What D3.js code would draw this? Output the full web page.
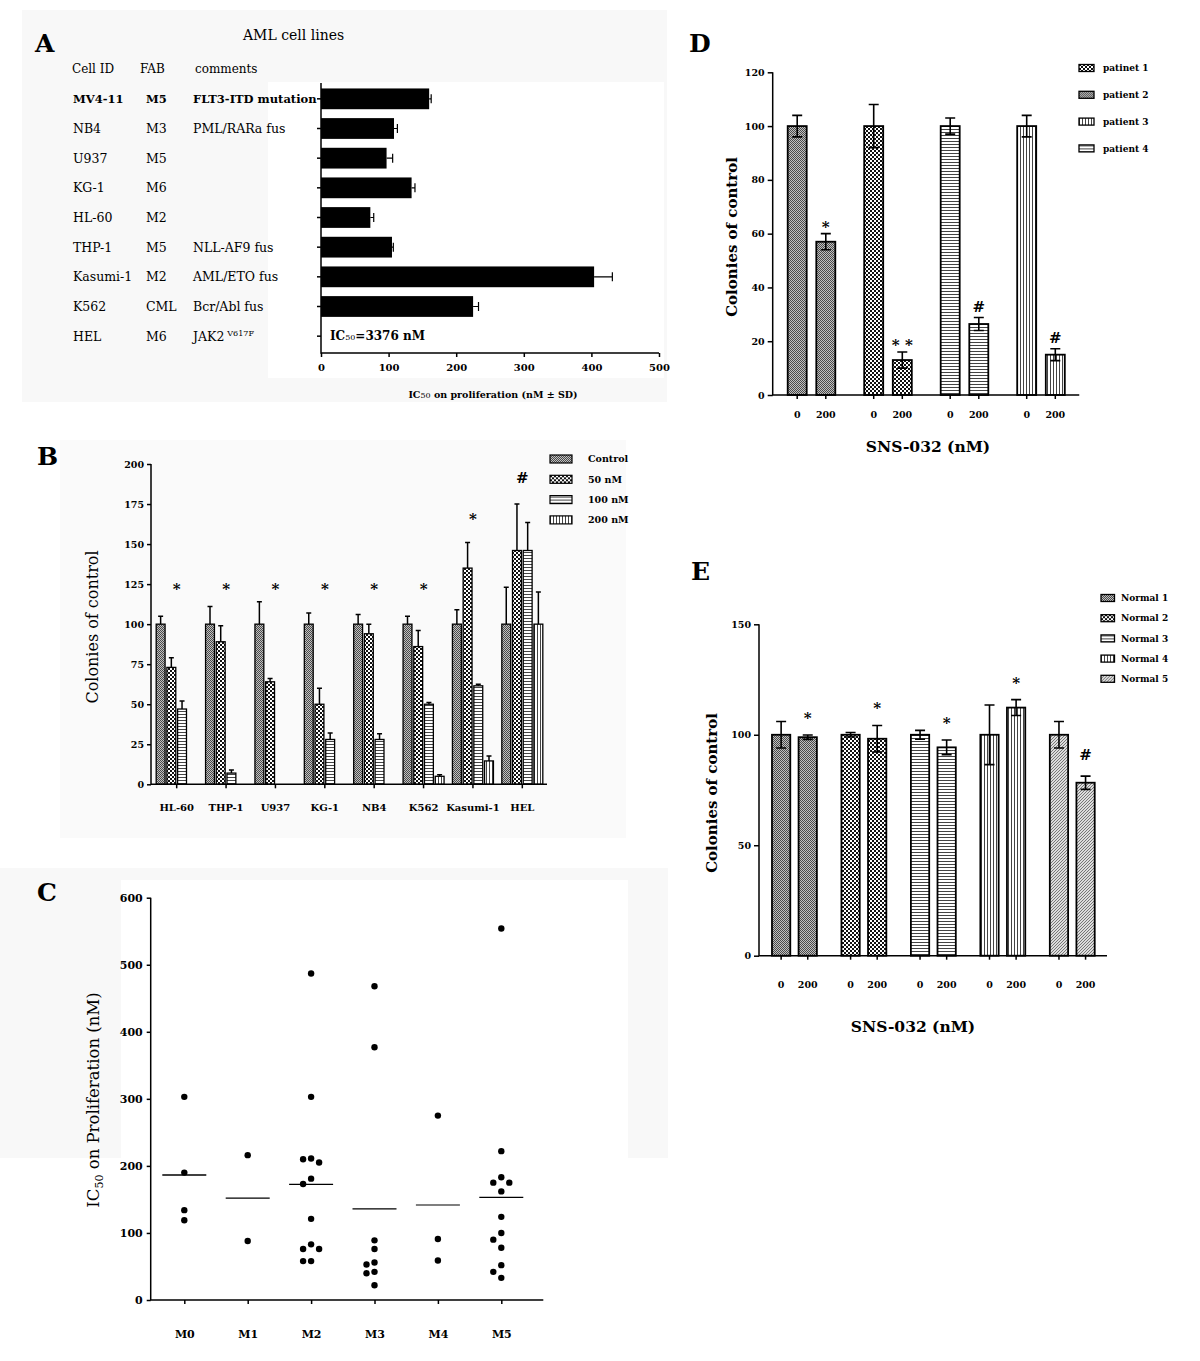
<!DOCTYPE html>
<meta charset="utf-8">
<style>
  body { margin: 0; background: #fff; }
  svg { font-family: "DejaVu Serif", serif; }
</style>
<svg></svg>
<script src="https://cdn.jsdelivr.net/npm/d3@7"></script>
<script>

// ---- panel A : IC50 per cell line
var cellIds  = ["MV4-11", "NB4", "U937", "KG-1", "HL-60", "THP-1", "Kasumi-1", "K562", "HEL"];
var fabA     = ["M5", "M3", "M5", "M6", "M2", "M5", "M2", "CML", "M6"];
var notesA   = ["FLT3-ITD mutation", "PML/RARa fus", "", "", "", "NLL-AF9 fus", "AML/ETO fus", "Bcr/Abl fus", "JAK2"];
var supA     = ["", "", "", "", "", "", "", "", "V617F"];
var ic50A    = [160, 108, 97, 134, 73, 105, 404, 225, null];
var ic50SdA  = [3, 5, 9, 5, 5, 2, 27, 8, null];

// ---- panel B : colonies per cell line and dose
var groupsB    = ["HL-60", "THP-1", "U937", "KG-1", "NB4", "K562", "Kasumi-1", "HEL"];
var dosesB     = ["Control", "50 nM", "100 nM", "200 nM"];
var controlB   = [100, 100, 100, 100, 100, 100, 100, 100];
var controlSdB = [5, 11, 14, 7, 6, 5, 9, 23];
var nm50B      = [73, 89, 64, 50, 94, 86, 135, 146];
var nm50SdB    = [6, 10, 2, 10, 6, 10, 16, 29];
var nm100B     = [47, 7, null, 28, 28, 50, 61.5, 146];
var nm100SdB   = [5, 2, null, 4, 3.5, 1, 1, 17.5];
var nm200B     = [null, null, null, null, null, 5, 14.6, 100];
var nm200SdB   = [null, null, null, null, null, 1, 3, 20];
var signifB    = ["*", "*", "*", "*", "*", "*", "*", "#"];

// ---- panel C : IC50 of primary samples per FAB class
var fabC   = ["M0", "M1", "M2", "M3", "M4", "M5"];
var ic50M0 = [303, 190, 134, 119];
var ic50M1 = [216, 88];
var ic50M2 = [487, 303, 211, 210, 205, 181, 173, 121, 83, 76, 76, 58, 58];
var ic50M3 = [468, 377, 89, 76, 56, 53, 42, 40, 22];
var ic50M4 = [275, 91, 59];
var ic50M5 = [554, 222, 183, 175, 175, 162, 124, 100, 90, 78, 52, 42, 33];

// ---- panel D : patient samples
var doseLabels = ["0", "200"];
var patientsD  = ["patinet 1", "patient 2", "patient 3", "patient 4"];
var ctrlD      = [100, 100, 100, 100];
var ctrlSdD    = [4, 8, 3, 4];
var sns200D    = [57, 13, 26.4, 15];
var sns200SdD  = [3, 3, 2.4, 2.2];
var signifD    = ["*", "* *", "#", "#"];

// ---- panel E : normal samples
var normalsE   = ["Normal 1", "Normal 2", "Normal 3", "Normal 4", "Normal 5"];
var ctrlE      = [100, 100, 100, 100, 100];
var ctrlSdE    = [6, 1, 2, 13.5, 6];
var sns200E    = [98.9, 98.2, 94.3, 112.3, 78.3];
var sns200SdE  = [1, 6, 3.3, 3.6, 3];
var signifE    = ["*", "*", "*", "*", "#"];

var svg = d3.select("svg").attr("width", 1200).attr("height", 1361);
svg.append("rect").attr("width", 1200).attr("height", 1361).attr("fill", "#fff");

// faint scan background of the original panels
[[22, 10, 645, 392, "#f8f8f8"], [268, 82, 396, 296, "#fff"], [60, 440, 566, 398, "#fafafa"],
 [0, 868, 668, 290, "#f8f8f8"], [121, 880, 507, 280, "#fff"]].forEach(r =>
  svg.append("rect").attr("x", r[0]).attr("y", r[1]).attr("width", r[2]).attr("height", r[3]).attr("fill", r[4]));

// fill patterns
var defs = svg.append("defs");
function pat(id, w, draw) {
  var p = defs.append("pattern").attr("id", id).attr("patternUnits", "userSpaceOnUse")
    .attr("width", w).attr("height", w);
  draw(p);
}
pat("dense", 2, p => {
  p.append("rect").attr("width", 2).attr("height", 2).attr("fill", "#c0c0c0");
  p.append("rect").attr("width", 1).attr("height", 1).attr("fill", "#4a4a4a");
  p.append("rect").attr("x", 1).attr("y", 1).attr("width", 1).attr("height", 1).attr("fill", "#4a4a4a");
});
pat("checker", 4, p => {
  p.append("rect").attr("width", 4).attr("height", 4).attr("fill", "#fff");
  p.append("rect").attr("width", 2).attr("height", 2).attr("fill", "#111");
  p.append("rect").attr("x", 2).attr("y", 2).attr("width", 2).attr("height", 2).attr("fill", "#111");
});
pat("hlines", 3, p => {
  p.append("rect").attr("width", 3).attr("height", 3).attr("fill", "#fff");
  p.append("rect").attr("width", 3).attr("height", 1).attr("fill", "#444");
});
pat("vlines", 3, p => {
  p.append("rect").attr("width", 3).attr("height", 3).attr("fill", "#fff");
  p.append("rect").attr("width", 1).attr("height", 3).attr("fill", "#444");
});
pat("diag", 3, p => {
  p.append("rect").attr("width", 3).attr("height", 3).attr("fill", "#ddd");
  p.append("path").attr("d", "M-1,1 L1,-1 M0,3 L3,0 M2,4 L4,2").attr("stroke", "#777").attr("stroke-width", 1);
});

function styleAxis(g, size) {
  g.attr("font-family", "DejaVu Serif").attr("font-size", size).attr("font-weight", "bold");
  g.selectAll("line").attr("stroke", "#000").attr("stroke-width", 1.5);
  g.select(".domain").remove();
}

function panelLabel(txt, x, y) {
  svg.append("text").attr("x", x).attr("y", y).attr("font-size", 25).attr("font-weight", "bold").text(txt);
}

// =============== A ===============
(function() {
  var g = svg.append("g");
  var x = d3.scaleLinear().domain([0, 500]).range([321, 659]);
  var y = d3.scaleBand().domain(cellIds).range([84, 351]).paddingInner(0.3).paddingOuter(0.15);
  var rows = cellIds.map((id, i) => ({id: id, fab: fabA[i], note: notesA[i], sup: supA[i], v: ic50A[i], sd: ic50SdA[i]}));
  var cy = d => y(d.id) + y.bandwidth() / 2;

  panelLabel("A", 35, 52);
  g.append("text").attr("x", 243).attr("y", 40).attr("font-size", 14).text("AML cell lines");
  var head = g.append("g").attr("font-size", 12);
  head.append("text").attr("x", 72).attr("y", 73).text("Cell ID");
  head.append("text").attr("x", 140).attr("y", 73).text("FAB");
  head.append("text").attr("x", 195).attr("y", 73).text("comments");

  var row = g.selectAll(".row").data(rows).join("g")
      .attr("transform", d => "translate(0," + cy(d) + ")")
      .attr("font-size", (d, i) => i === 0 ? 11.5 : 12.5)
      .attr("font-weight", (d, i) => i === 0 ? "bold" : "normal");
  row.append("text").attr("x", 73).attr("dy", "0.35em").text(d => d.id);
  row.append("text").attr("x", 146).attr("dy", "0.35em").text(d => d.fab);
  var note = row.append("text").attr("x", 193).attr("dy", "0.35em").text(d => d.note);
  note.filter(d => d.sup).append("tspan").attr("dx", 3).attr("dy", -5).attr("font-size", 8).text(d => d.sup);

  var withVal = rows.filter(d => d.v != null);
  g.selectAll(".barA").data(withVal).join("rect")
      .attr("x", x(0)).attr("y", d => y(d.id))
      .attr("width", d => x(d.v) - x(0)).attr("height", y.bandwidth()).attr("fill", "#000");
  g.selectAll(".errA").data(withVal).join("path")
      .attr("d", d => "M" + x(d.v) + "," + cy(d) + "H" + x(d.v + d.sd) + "M" + x(d.v + d.sd) + "," + (cy(d) - 4.5) + "V" + (cy(d) + 4.5))
      .attr("stroke", "#000").attr("stroke-width", 1.2).attr("fill", "none");

  // HEL is off the scale
  var hel = rows.filter(d => d.v == null)[0];
  var t = g.append("text").attr("x", 330).attr("y", cy(hel)).attr("dy", "0.35em")
      .attr("font-size", 12).attr("font-weight", "bold");
  t.append("tspan").text("IC");
  t.append("tspan").attr("font-size", 8).attr("font-weight", "normal").text("50");
  t.append("tspan").text("=3376 nM");

  g.append("g").attr("transform", "translate(0,353)")
      .call(d3.axisBottom(x).ticks(5).tickSize(4).tickSizeOuter(0).tickPadding(7))
      .call(a => styleAxis(a, 10));
  g.append("g").attr("transform", "translate(321,0)")
      .call(d3.axisLeft(y).tickSize(4).tickSizeOuter(0).tickFormat(""))
      .call(a => styleAxis(a, 10));
  g.append("path").attr("d", "M321,83V353H659").attr("stroke", "#000").attr("stroke-width", 1.5).attr("fill", "none");

  var xt = g.append("text").attr("x", 493).attr("y", 398).attr("text-anchor", "middle")
      .attr("font-size", 9.5).attr("font-weight", "bold");
  xt.append("tspan").text("IC");
  xt.append("tspan").attr("font-size", 8).attr("font-weight", "normal").text("50");
  xt.append("tspan").text(" on proliferation (nM \u00b1 SD)");
})();

// =============== B ===============
(function() {
  var g = svg.append("g");
  var y = d3.scaleLinear().domain([0, 200]).range([784.3, 464]);
  var x = d3.scaleBand().domain(groupsB).range([152, 547]);
  var x1 = d3.scaleBand().domain(dosesB).range([-20.5, 20.5]).paddingInner(0.17);
  var pats = ["dense", "checker", "hlines", "vlines"];
  var vals = [controlB, nm50B, nm100B, nm200B], sds = [controlSdB, nm50SdB, nm100SdB, nm200SdB];
  var cx = grp => x(grp) + x.bandwidth() / 2;

  var bars = [];
  groupsB.forEach((grp, i) => dosesB.forEach((dose, j) => {
    if (vals[j][i] != null) bars.push({grp: grp, dose: dose, pat: pats[j], v: vals[j][i], sd: sds[j][i]});
  }));

  panelLabel("B", 37, 465);

  g.selectAll(".barB").data(bars).join("rect")
      .attr("x", d => cx(d.grp) + x1(d.dose)).attr("y", d => y(d.v))
      .attr("width", x1.bandwidth()).attr("height", d => y(0) - y(d.v))
      .attr("fill", d => "url(#" + d.pat + ")").attr("stroke", "#000").attr("stroke-width", 1.3);
  g.selectAll(".errB").data(bars).join("path")
      .attr("d", d => {
        var xm = cx(d.grp) + x1(d.dose) + x1.bandwidth() / 2;
        return "M" + xm + "," + y(d.v) + "V" + y(d.v + d.sd) + "M" + (xm - 2.5) + "," + y(d.v + d.sd) + "H" + (xm + 2.5);
      })
      .attr("stroke", "#000").attr("stroke-width", 1.5).attr("fill", "none");

  // significance marks
  var marks = groupsB.map((grp, i) => {
    var top = d3.max(bars.filter(b => b.grp === grp), b => b.v + b.sd);
    return {grp: grp, m: signifB[i], level: top > 120 ? top + 16 : 123};
  });
  g.selectAll(".markB").data(marks).join("text")
      .attr("x", d => cx(d.grp)).attr("y", d => y(d.level) + (d.m === "#" ? 5 : 7))
      .attr("text-anchor", "middle").attr("font-size", 15).attr("font-weight", "bold").text(d => d.m);

  g.append("g").attr("transform", "translate(151,0)")
      .call(d3.axisLeft(y).tickValues(d3.range(0, 201, 25)).tickSize(4).tickPadding(3))
      .call(a => styleAxis(a, 9.5));
  g.append("g").attr("transform", "translate(0," + y(0) + ")")
      .call(d3.axisBottom(x).tickSize(4).tickPadding(16))
      .call(a => styleAxis(a, 10));
  g.append("path").attr("d", "M151," + y(200) + "V" + y(0) + "H547").attr("stroke", "#000").attr("stroke-width", 1.5).attr("fill", "none");

  g.append("text").attr("transform", "translate(92,627) rotate(-90)").attr("text-anchor", "middle")
      .attr("dy", "0.35em").attr("font-size", 16).text("Colonies of control");

  var leg = g.selectAll(".legB").data(dosesB).join("g")
      .attr("transform", (d, i) => "translate(550," + (459 + i * 20.3) + ")");
  leg.append("rect").attr("y", -4).attr("width", 22).attr("height", 8)
      .attr("fill", (d, i) => "url(#" + pats[i] + ")").attr("stroke", "#000").attr("stroke-width", 1.2);
  leg.append("text").attr("x", 38).attr("dy", "0.35em").attr("font-size", 9.5).attr("font-weight", "bold").text(d => d);
})();

// =============== C ===============
(function() {
  var g = svg.append("g");
  var y = d3.scaleLinear().domain([0, 600]).range([1300, 897.7]);
  var x = d3.scalePoint().domain(fabC).range([184.3, 501.3]);
  var sets = [ic50M0, ic50M1, ic50M2, ic50M3, ic50M4, ic50M5];
  var r = 3.2;

  panelLabel("C", 37, 901);

  // spread dots that would overlap sideways
  var dots = [];
  fabC.forEach((f, i) => {
    var placed = [];
    sets[i].slice().sort((a, b) => b - a).forEach(v => {
      var py = y(v), offs = [0, -1, 1, -2, 2];
      for (var k = 0; k < offs.length; k++) {
        var px = x(f) + offs[k] * 8;
        if (!placed.some(p => Math.hypot(p.x - px, p.y - py) < 2 * r + 0.5)) {
          placed.push({x: px, y: py});
          break;
        }
      }
    });
    dots = dots.concat(placed);
  });
  g.selectAll(".dotC").data(dots).join("circle")
      .attr("cx", d => d.x).attr("cy", d => d.y).attr("r", r).attr("fill", "#000");

  var means = fabC.map((f, i) => ({f: f, m: d3.mean(sets[i])}));
  g.selectAll(".meanC").data(means).join("line")
      .attr("x1", d => x(d.f) - 22).attr("x2", d => x(d.f) + 22)
      .attr("y1", d => y(d.m)).attr("y2", d => y(d.m))
      .attr("stroke", (d, i) => i === 4 ? "#555" : "#000").attr("stroke-width", 1.4);

  g.append("g").attr("transform", "translate(150.7,0)")
      .call(d3.axisLeft(y).ticks(6).tickSize(4).tickPadding(4))
      .call(a => styleAxis(a, 11));
  g.append("g").attr("transform", "translate(0,1300)")
      .call(d3.axisBottom(x).tickSize(4).tickPadding(26))
      .call(a => styleAxis(a, 11));
  g.append("path").attr("d", "M150.7,897.7V1300H543.3").attr("stroke", "#000").attr("stroke-width", 1.5).attr("fill", "none");

  var t = g.append("text").attr("transform", "translate(93,1100) rotate(-90)").attr("text-anchor", "middle")
      .attr("dy", "0.35em").attr("font-size", 16.5);
  t.append("tspan").text("IC");
  t.append("tspan").attr("font-size", 11).attr("dy", 4).text("50");
  t.append("tspan").attr("dy", -4).text(" on Proliferation (nM)");
})();

// =============== D & E ===============
function pairPanel(o) {
  var g = svg.append("g");
  var y = d3.scaleLinear().domain(o.domain).range(o.yRange);
  var x = d3.scaleBand().domain(o.groups).range(o.xRange);
  var x1 = d3.scalePoint().domain(doseLabels).range([-o.half, o.half]);
  var items = [];
  o.groups.forEach((grp, i) => {
    items.push({grp: grp, dose: "0", v: o.ctrl[i], sd: o.ctrlSd[i], pat: o.pats[i]});
    items.push({grp: grp, dose: "200", v: o.treat[i], sd: o.treatSd[i], pat: o.pats[i], mark: o.marks[i]});
  });
  items.forEach(d => d.cx = x(d.grp) + x.bandwidth() / 2 + x1(d.dose));
  var y0 = y(0);

  panelLabel(o.label, o.labelX, o.labelY);

  g.selectAll(".bar").data(items).join("rect")
      .attr("x", d => d.cx - o.bw / 2).attr("y", d => y(d.v))
      .attr("width", o.bw).attr("height", d => y0 - y(d.v))
      .attr("fill", d => "url(#" + d.pat + ")").attr("stroke", "#000").attr("stroke-width", 1.8);
  g.selectAll(".err").data(items).join("path")
      .attr("d", d => "M" + d.cx + "," + y(d.v - d.sd) + "V" + y(d.v + d.sd) +
                      "M" + (d.cx - 5) + "," + y(d.v + d.sd) + "H" + (d.cx + 5) +
                      "M" + (d.cx - 5) + "," + y(d.v - d.sd) + "H" + (d.cx + 5))
      .attr("stroke", "#000").attr("stroke-width", 1.6).attr("fill", "none");
  g.selectAll(".mark").data(items.filter(d => d.mark)).join("text")
      .attr("x", d => d.cx).attr("y", d => y(d.v + d.sd) - (d.mark === "#" ? o.gap - 2 : o.gap) + (d.mark === "#" ? 0 : 6))
      .attr("text-anchor", "middle").attr("font-size", 15).attr("font-weight", "bold").text(d => d.mark);

  g.append("g").attr("transform", "translate(" + o.axisX + ",0)")
      .call(d3.axisLeft(y).tickValues(o.ticks).tickSize(5).tickPadding(3))
      .call(a => styleAxis(a, 9.5));
  g.append("path").attr("d", "M" + o.axisX + "," + o.yRange[1] + "V" + y0 + "H" + o.xRange[1])
      .attr("stroke", "#000").attr("stroke-width", 1.5).attr("fill", "none");
  g.selectAll(".xt").data(items).join("line")
      .attr("x1", d => d.cx).attr("x2", d => d.cx).attr("y1", y0).attr("y2", y0 + 4)
      .attr("stroke", "#000").attr("stroke-width", 1.5);
  g.selectAll(".xl").data(items).join("text")
      .attr("x", d => d.cx).attr("y", y0 + o.labelGap).attr("text-anchor", "middle")
      .attr("font-size", 9.5).attr("font-weight", "bold").text(d => d.dose);

  g.append("text").attr("transform", "translate(" + o.yTitle[0] + "," + o.yTitle[1] + ") rotate(-90)")
      .attr("text-anchor", "middle").attr("dy", "0.35em").attr("font-size", 15).attr("font-weight", "bold")
      .text("Colonies of control");
  g.append("text").attr("x", o.xTitle[0]).attr("y", o.xTitle[1]).attr("text-anchor", "middle")
      .attr("font-size", 15.5).attr("font-weight", "bold").text("SNS-032 (nM)");

  var leg = g.selectAll(".leg").data(o.groups).join("g")
      .attr("transform", (d, i) => "translate(" + o.legX + "," + (o.legY + i * o.legStep) + ")");
  leg.append("rect").attr("y", -3.5).attr("width", o.legW).attr("height", 7)
      .attr("fill", (d, i) => "url(#" + o.legPats[i] + ")").attr("stroke", "#000").attr("stroke-width", 1.3);
  leg.append("text").attr("x", o.legText).attr("dy", "0.35em").attr("font-size", 9).attr("font-weight", "bold").text(d => d);
}

pairPanel({
  label: "D", labelX: 689, labelY: 52,
  groups: patientsD, ctrl: ctrlD, ctrlSd: ctrlSdD, treat: sns200D, treatSd: sns200SdD, marks: signifD,
  pats: ["dense", "checker", "hlines", "vlines"], legPats: ["checker", "dense", "vlines", "hlines"],
  domain: [0, 120], ticks: d3.range(0, 121, 20), yRange: [395, 72.3], xRange: [773.25, 1079.25], axisX: 772.7,
  half: 14.3, bw: 19, gap: 8, labelGap: 23,
  yTitle: [732, 237], xTitle: [928, 452],
  legX: 1079, legY: 68, legStep: 26.8, legW: 15, legText: 24
});

pairPanel({
  label: "E", labelX: 691, labelY: 580,
  groups: normalsE, ctrl: ctrlE, ctrlSd: ctrlSdE, treat: sns200E, treatSd: sns200SdE, marks: signifE,
  pats: ["dense", "checker", "hlines", "vlines", "diag"], legPats: ["dense", "checker", "hlines", "vlines", "diag"],
  domain: [0, 150], ticks: [0, 50, 100, 150], yRange: [955.7, 624.3], xRange: [759.7, 1107], axisX: 759,
  half: 13.3, bw: 18.3, gap: 18, labelGap: 32,
  yTitle: [712, 793], xTitle: [913, 1032],
  legX: 1101, legY: 598, legStep: 20.2, legW: 13.5, legText: 20
});

</script>
